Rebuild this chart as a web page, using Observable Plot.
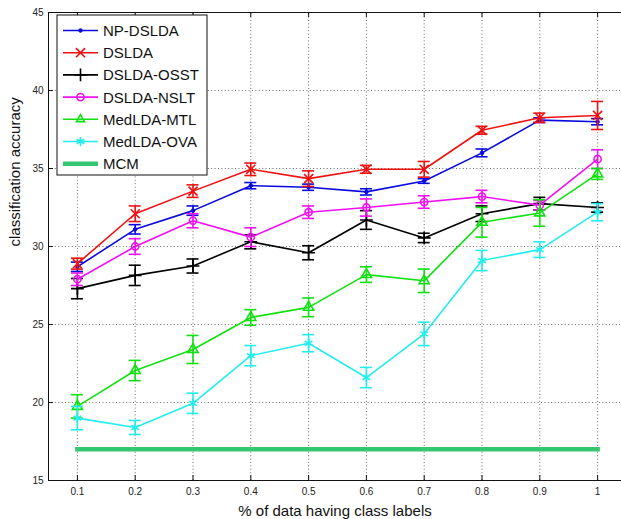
<!DOCTYPE html>
<html><head><meta charset="utf-8">
<script src="https://cdn.jsdelivr.net/npm/d3@7"></script>
<script src="https://cdn.jsdelivr.net/npm/@observablehq/plot@0.6"></script>
<style>
html,body{margin:0;padding:0;background:#fff;overflow:hidden}
</style></head><body><div id="chart"></div>
<script>
// ---- data ----
const xValues = [0.1, 0.2, 0.3, 0.4, 0.5, 0.6, 0.7, 0.8, 0.9, 1];
const seriesNames = ["NP-DSLDA", "DSLDA", "DSLDA-OSST", "DSLDA-NSLT", "MedLDA-MTL", "MedLDA-OVA"];
const seriesColors = ["#0a0ae0", "#ee1111", "#000000", "#f010f0", "#11e011", "#22eeee"];
const seriesSymbols = ["dot", "times", "plus", "circle", "triangle", "asterisk"];

const npDslda      = [28.7, 31.1, 32.3, 33.9, 33.8, 33.5, 34.2, 36.0, 38.1, 38.0];
const npDsldaErr   = [0.3, 0.3, 0.3, 0.2, 0.2, 0.2, 0.15, 0.25, 0.15, 0.2];
const dslda        = [28.9, 32.1, 33.55, 34.95, 34.35, 34.95, 34.95, 37.45, 38.25, 38.4];
const dsldaErr     = [0.35, 0.5, 0.4, 0.4, 0.5, 0.25, 0.5, 0.25, 0.3, 0.9];
const dsldaOsst    = [27.3, 28.15, 28.75, 30.3, 29.6, 31.7, 30.55, 32.1, 32.75, 32.5];
const dsldaOsstErr = [0.65, 0.65, 0.45, 0.45, 0.45, 0.6, 0.3, 0.5, 0.4, 0.3];
const dsldaNslt    = [27.9, 30.0, 31.65, 30.6, 32.2, 32.5, 32.85, 33.2, 32.65, 35.6];
const dsldaNsltErr = [0.4, 0.5, 0.45, 0.6, 0.4, 0.55, 0.4, 0.4, 0.3, 0.6];
const medldaMtl    = [19.75, 22.05, 23.4, 25.45, 26.1, 28.2, 27.8, 31.55, 32.15, 34.65];
const medldaMtlErr = [0.75, 0.65, 0.9, 0.5, 0.6, 0.5, 0.75, 0.95, 0.85, 0.35];
const medldaOva    = [19.0, 18.4, 19.95, 23.0, 23.8, 21.6, 24.4, 29.1, 29.8, 32.2];
const medldaOvaErr = [0.75, 0.45, 0.65, 0.65, 0.55, 0.65, 0.75, 0.65, 0.5, 0.55];
const mcmName = "MCM";
const mcmColor = "#33c870";
const mcmValues = [17, 17, 17, 17, 17, 17, 17, 17, 17, 17];

const xTicks = [0.1, 0.2, 0.3, 0.4, 0.5, 0.6, 0.7, 0.8, 0.9, 1];
const xTickLabels = ["0.1", "0.2", "0.3", "0.4", "0.5", "0.6", "0.7", "0.8", "0.9", "1"];
const yTicks = [15, 20, 25, 30, 35, 40, 45];
const xDomain = [0.05, 1.05];
const yDomain = [15, 45];
const xTitle = "% of data having class labels";
const yTitle = "classification accuracy";

// ---- build ----
const valueSets = [npDslda, dslda, dsldaOsst, dsldaNslt, medldaMtl, medldaOva];
const errSets = [npDsldaErr, dsldaErr, dsldaOsstErr, dsldaNsltErr, medldaMtlErr, medldaOvaErr];
const seriesRows = seriesNames.map((name, i) =>
  xValues.map((x, j) => ({series: name, x, y: valueSets[i][j], err: errSets[i][j]})));
const mcmRows = xValues.map((x, j) => ({series: mcmName, x, y: mcmValues[j]}));

const font = "'Liberation Sans', Arial, Helvetica, sans-serif";
const gridStyle = {stroke: "#444", strokeDasharray: "1,2.4", strokeWidth: 1, strokeOpacity: 0.8};
const LW = 1.6;

function dotOpts(i) {
  const s = seriesSymbols[i];
  if (s === "dot") return {symbol: "circle", fill: seriesColors[i], stroke: seriesColors[i], r: 1.8, strokeWidth: 1};
  if (s === "circle") return {symbol: "circle", fill: "none", stroke: seriesColors[i], r: 3.6, strokeWidth: LW};
  if (s === "triangle") return {symbol: "triangle", fill: "none", stroke: seriesColors[i], r: 3.8, strokeWidth: LW};
  return {symbol: s, fill: "none", stroke: seriesColors[i], r: 4.2, strokeWidth: LW};
}

const marks = [
  Plot.ruleX(xTicks, {x: d => d, y1: yDomain[0], y2: yDomain[1], ...gridStyle}),
  Plot.ruleY(yTicks, {y: d => d, x1: xDomain[0], x2: xDomain[1], ...gridStyle}),
  Plot.ruleY(yDomain, {y: d => d, x1: xDomain[0], x2: xDomain[1], stroke: "#111", strokeWidth: 1}),
  Plot.ruleX(xDomain, {x: d => d, y1: yDomain[0], y2: yDomain[1], stroke: "#111", strokeWidth: 1}),
  Plot.ruleX(xTicks, {x: d => d, y1: yDomain[0], y2: yDomain[0], insetTop: -5, stroke: "#111"}),
  Plot.ruleX(xTicks, {x: d => d, y1: yDomain[1], y2: yDomain[1], insetBottom: -5, stroke: "#111"}),
  Plot.ruleY(yTicks, {y: d => d, x1: xDomain[0], x2: xDomain[0], insetRight: -5, stroke: "#111"}),
  Plot.ruleY(yTicks, {y: d => d, x1: xDomain[1], x2: xDomain[1], insetLeft: 5, stroke: "#111"}),
  Plot.axisX(xTicks, {tickSize: 0, tickPadding: 7, fontSize: 10, label: null,
    tickFormat: d => xTickLabels[xTicks.indexOf(d)]}),
  Plot.axisY(yTicks, {tickSize: 0, tickPadding: 5, fontSize: 10, label: null}),
  Plot.text([xTitle], {text: d => d, frameAnchor: "bottom", dy: 31, lineAnchor: "middle", fontSize: 15, fill: "#111"}),
  Plot.text([yTitle], {text: d => d, frameAnchor: "left", dx: -33, rotate: -90, lineAnchor: "middle", fontSize: 15, fill: "#111"})
];

seriesRows.forEach((rows, i) => {
  const c = seriesColors[i];
  marks.push(
    Plot.line(rows, {x: "x", y: "y", stroke: c, strokeWidth: LW}),
    Plot.ruleX(rows, {x: "x", y1: d => d.y - d.err, y2: d => d.y + d.err, stroke: c, strokeWidth: LW}),
    Plot.ruleY(rows, {y: d => d.y + d.err, x1: "x", x2: "x", insetLeft: -6, insetRight: -6, stroke: c, strokeWidth: LW}),
    Plot.ruleY(rows, {y: d => d.y - d.err, x1: "x", x2: "x", insetLeft: -6, insetRight: -6, stroke: c, strokeWidth: LW}),
    Plot.dot(rows, {x: "x", y: "y", ...dotOpts(i)})
  );
});
marks.push(Plot.line(mcmRows, {x: "x", y: "y", stroke: mcmColor, strokeWidth: 4.5, strokeLinecap: "square"}));

const chart = Plot.plot({
  width: 621, height: 519,
  marginTop: 12, marginBottom: 39, marginLeft: 48, marginRight: 0,
  x: {domain: xDomain, range: [48, 626]},
  y: {domain: yDomain},
  style: {fontFamily: font, background: "#fff", color: "#222", overflow: "hidden"},
  marks
});
document.getElementById("chart").appendChild(chart);

// ---- legend ----
const svg = d3.select(chart);
const lg = svg.append("g").attr("font-family", font).attr("font-size", 15).attr("text-anchor", "start");
lg.append("rect").attr("x", 57).attr("y", 15).attr("width", 150).attr("height", 160)
  .attr("fill", "#fff").attr("stroke", "#111").attr("stroke-width", 1);
const symMap = {dot: d3.symbolCircle, times: d3.symbolTimes, plus: d3.symbolPlus, circle: d3.symbolCircle, triangle: d3.symbolTriangle2, asterisk: d3.symbolAsterisk};
const legendNames = [...seriesNames, mcmName];
legendNames.forEach((name, i) => {
  const yy = 30.5 + i * 22.2;
  const g = lg.append("g");
  if (i < seriesNames.length) {
    const c = seriesColors[i];
    g.append("line").attr("x1", 63).attr("x2", 98).attr("y1", yy).attr("y2", yy)
      .attr("stroke", c).attr("stroke-width", LW);
    const o = dotOpts(i);
    g.append("path").attr("transform", `translate(80.5,${yy})`)
      .attr("d", d3.symbol(symMap[seriesSymbols[i]], o.r * o.r * Math.PI)())
      .attr("fill", o.fill).attr("stroke", o.stroke).attr("stroke-width", o.strokeWidth);
  } else {
    g.append("line").attr("x1", 63).attr("x2", 98).attr("y1", yy).attr("y2", yy)
      .attr("stroke", mcmColor).attr("stroke-width", 4.5);
  }
  g.append("text").attr("x", 103).attr("y", yy).attr("dy", "0.36em")
    .attr("text-anchor", "start").attr("fill", "#111").text(name);
});
</script></body></html>
